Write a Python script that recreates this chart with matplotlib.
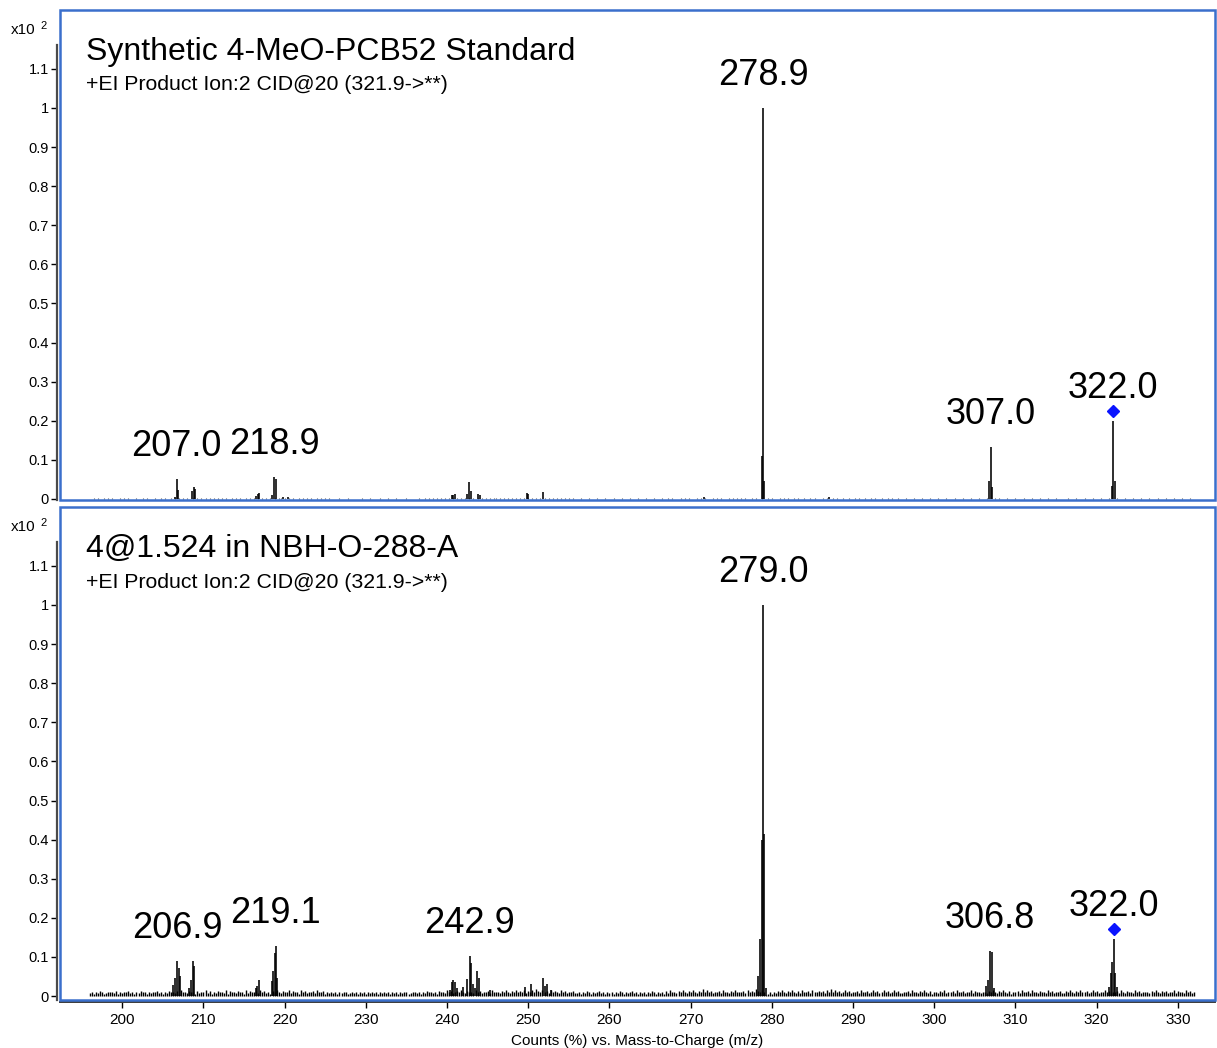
import matplotlib
matplotlib.use('Agg')
import matplotlib.pyplot as plt
from matplotlib.patches import Rectangle
from matplotlib.transforms import ScaledTranslation
import numpy as np

plt.rcParams['font.family'] = ['Liberation Sans', 'DejaVu Sans']

# ---------------- data ----------------
top_title = "Synthetic 4-MeO-PCB52 Standard"
bot_title = "4@1.524 in NBH-O-288-A"
subtitle = "+EI Product Ion:2 CID@20 (321.9->**)"

top_peak_mz = [206.5, 206.7, 206.9, 208.62, 208.79, 208.95, 216.46, 216.67, 216.87,
               218.4, 218.68, 218.89, 219.75, 220.4, 240.56, 240.76, 240.97, 242.41,
               242.73, 242.94, 243.84, 244.05, 249.8, 250.0, 251.84, 271.68, 278.74,
               278.9, 279.06, 287.03, 306.77, 306.98, 307.14, 321.84, 322.04, 322.21]
top_peak_int = [0.005, 0.051, 0.023, 0.020, 0.030, 0.026, 0.008, 0.013, 0.015,
                0.010, 0.055, 0.051, 0.006, 0.005, 0.010, 0.010, 0.012, 0.012,
                0.043, 0.021, 0.013, 0.010, 0.015, 0.012, 0.019, 0.006, 0.110,
                1.000, 0.045, 0.006, 0.046, 0.134, 0.031, 0.034, 0.200, 0.046]

bot_peak_mz = [206.28, 206.49, 206.77, 206.94, 207.1, 208.25, 208.46, 208.67, 208.83,
               216.46, 216.62, 216.79, 218.4, 218.59, 218.8, 218.92, 219.08,
               240.35, 240.56, 240.76, 240.97, 241.18, 241.99, 242.48, 242.82, 242.98,
               243.22, 243.43, 243.64, 243.92, 245.28, 249.59, 250.29, 251.77, 252.05,
               252.26, 252.79, 278.35, 278.59, 278.78, 278.9, 279.08, 279.27,
               306.4, 306.61, 306.86, 307.16, 307.35,
               321.55, 321.76, 321.9, 322.13, 322.26, 322.48]
bot_peak_int = [0.028, 0.045, 0.090, 0.071, 0.051, 0.020, 0.041, 0.090, 0.077,
                0.020, 0.026, 0.041, 0.039, 0.065, 0.109, 0.128, 0.046,
                0.015, 0.037, 0.041, 0.037, 0.020, 0.022, 0.043, 0.102, 0.084,
                0.030, 0.020, 0.064, 0.045, 0.015, 0.024, 0.030, 0.045, 0.025,
                0.030, 0.015, 0.050, 0.145, 0.400, 1.000, 0.415, 0.020,
                0.025, 0.042, 0.115, 0.112, 0.020,
                0.023, 0.060, 0.086, 0.146, 0.060, 0.023]

# baseline noise, one digit per 0.25 m/z starting at 196.0
top_noise_digits = (
    "1021201302" "1201021302" "1102013021" "0120130210"
    "2130213021" "0213021302" "1302130210" "2130210213"
    "1302130213" "0213202130" "2103021302" "1021302130"
    "0102010201" "0010201020" "1002010201" "0201002010"
    "1020130213" "0213021302" "1302130213" "0213021302"
    "2130213021" "3021302130" "2130213021" "3021302130"
    "1020102010" "2010201020" "1020102010" "2010201020"
    "1020130201" "0213020102" "1302010213" "0201021302"
    "1302013021" "0201302010" "2130201302" "1020130201"
    "1302103021" "0310201302" "1020130210" "2013021020"
    "1020102010" "2010201020" "1020102010" "2010201020"
    "1020103020" "1020102010" "2010201020" "1020102010"
    "1020102010" "2010201020" "1020102010" "2010201020"
    "1020102010" "2010201020" "10201")
bot_noise_digits = (
    "3425364235" "4536243546" "3425364524" "3546352436"
    "4536275436" "4526354736" "2536453726" "4536452736"
    "5463746352" "6475364573" "6452746354" "6375462534"
    "3524354235" "3425342534" "3524353425" "3524354235"
    "4352436543" "5264537463" "5647536453" "7463546374"
    "4536475364" "7564736574" "8647563746" "5374635463"
    "3524364253" "4635243524" "3642534635" "2435243642"
    "4352637453" "6475364753" "6485746354" "6374536475"
    "5463746586" "4751242536" "4753647536" "3754637546"
    "4637485746" "3574635463" "7546357463" "5746357463"
    "3546374536" "4753624536" "4735463754" "6354736453"
    "4536475364" "7536254637" "5463745364" "5374635463"
    "3647536475" "4635746354" "7463546375" "3645374635"
    "4536475364" "6354736453" "74635")
noise_start, noise_step = 196.0, 0.25
top_noise_unit, bot_noise_unit = 0.0011, 0.0023

top_labels = ["207.0", "218.9", "278.9", "307.0", "322.0"]
top_label_mz = [206.7, 218.68, 278.9, 306.98, 322.04]
bot_labels = ["206.9", "219.1", "242.9", "279.0", "306.8", "322.0"]
bot_label_mz = [206.77, 218.92, 242.82, 278.9, 306.86, 322.13]
precursor_mz_top = 322.04
precursor_mz_bot = 322.13

xticks = list(range(200, 331, 10))
yticks = [0, 0.1, 0.2, 0.3, 0.4, 0.5, 0.6, 0.7, 0.8, 0.9, 1.0, 1.1]
ytick_labels = ["0", "0.1", "0.2", "0.3", "0.4", "0.5", "0.6", "0.7", "0.8", "0.9", "1", "1.1"]

# ---------------- figure ----------------
W, H = 1217, 1048
fig = plt.figure(figsize=(W / 100, H / 100), dpi=100)
BLUE = '#3a6fcc'

ax1 = fig.add_axes([60 / W, 1 - 500 / H, 1155 / W, 490 / H])
ax2 = fig.add_axes([60 / W, 1 - 1000 / H, 1155 / W, 493 / H])


def draw_panel(ax, pmz, pint, noise_digits, unit, labels, label_mz, prec_mz,
               title, ymin, show_x, noise_color, noise_lw):
    nmz = noise_start + noise_step * np.arange(len(noise_digits))
    nh = np.array([int(c) for c in noise_digits]) * unit
    ax.vlines(nmz, 0, nh, color=noise_color, lw=noise_lw)
    ax.vlines(pmz, 0, pint, color='black', lw=1.15)
    ax.set_xlim(192.33, 334.57)
    ax.set_ylim(ymin, 1.2506)

    for s in ['top', 'right']:
        ax.spines[s].set_visible(False)
    ax.spines['left'].set_color('#4a4a4a')
    ax.spines['left'].set_linewidth(1.6)
    ax.spines['left'].set_position(('outward', 2))
    ax.spines['left'].set_bounds(ymin, 1.16)
    if show_x:
        ax.spines['bottom'].set_color('#3a3a3a')
        ax.spines['bottom'].set_linewidth(1.4)
        ax.spines['bottom'].set_position(('outward', 1.5))
        ax.set_xticks(xticks)
        ax.tick_params(axis='x', direction='out', length=4, width=1, labelsize=11,
                       pad=4, color='black')
        ax.set_xlabel("Counts (%) vs. Mass-to-Charge (m/z)", fontsize=11, labelpad=5)
    else:
        ax.spines['bottom'].set_visible(False)
        ax.set_xticks([])

    ax.set_yticks(yticks)
    ax.set_yticklabels(ytick_labels)
    ax.tick_params(axis='y', direction='out', length=4, width=1, labelsize=10.5,
                   pad=2, color='black')

    ax.add_patch(Rectangle((0, 0), 1, 1, transform=ax.transAxes, fill=False,
                           ec=BLUE, lw=1.8, clip_on=False, zorder=6))

    pmz_a = np.array(pmz)
    pint_a = np.array(pint)
    for lab, m in zip(labels, label_mz):
        h = pint_a[np.argmin(np.abs(pmz_a - m))]
        ax.annotate(lab, xy=(m, h), xytext=(0, 23), textcoords='offset pixels',
                    ha='center', va='baseline', fontsize=26)
    ph = pint_a[np.argmin(np.abs(pmz_a - prec_mz))]
    off = ScaledTranslation(0, 10 / 100, fig.dpi_scale_trans)
    ax.plot([prec_mz], [ph], marker='D', ms=6, color='#0a14ff', ls='none',
            transform=ax.transData + off, clip_on=False, zorder=7)

    ax.text(26 / 1155, 0.898, title, transform=ax.transAxes, fontsize=23,
            va='baseline', ha='left')
    ax.text(26 / 1155, 0.8367, subtitle, transform=ax.transAxes, fontsize=15.3,
            va='baseline', ha='left')


draw_panel(ax1, top_peak_mz, top_peak_int, top_noise_digits, top_noise_unit,
           top_labels, top_label_mz, precursor_mz_top, top_title, -0.0026, False,
           '#555555', 0.8)
draw_panel(ax2, bot_peak_mz, bot_peak_int, bot_noise_digits, bot_noise_unit,
           bot_labels, bot_label_mz, precursor_mz_bot, bot_title, -0.0102, True,
           'black', 1.0)

for yb in (34, 531):
    fig.text(11 / W, 1 - yb / H, "x10", fontsize=11, va='baseline', ha='left')
    fig.text(40 / W, 1 - (yb - 5) / H, "2", fontsize=8, va='baseline', ha='left')

fig.savefig('out.png', dpi=100)
